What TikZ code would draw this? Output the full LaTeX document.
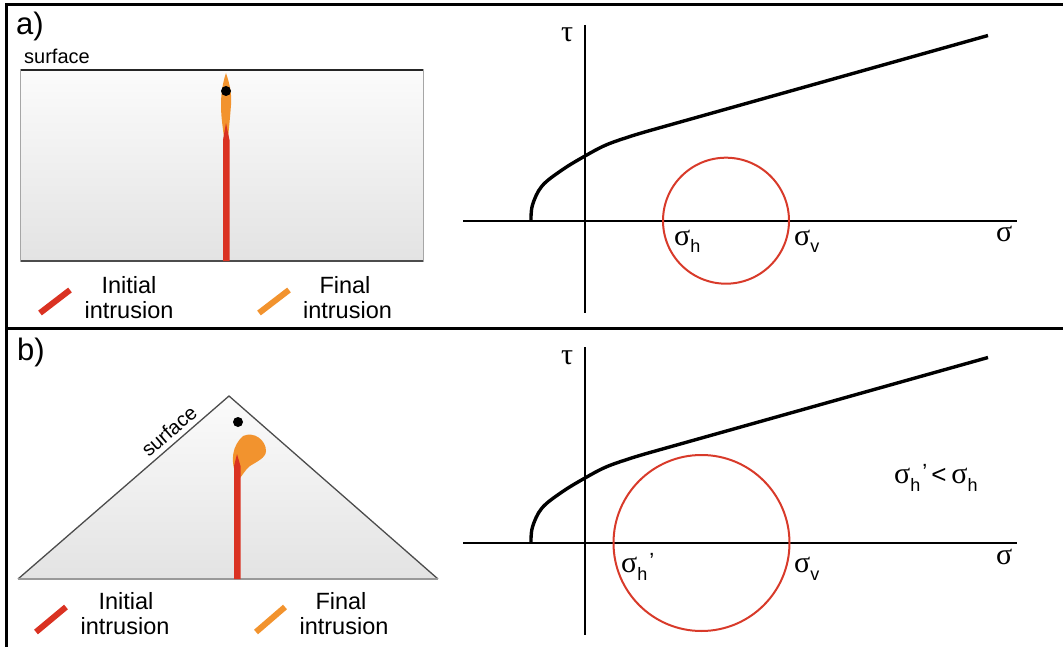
\documentclass[tikz,border=0pt]{standalone}
\usepackage{fontspec}
\setmainfont{Liberation Sans}
\newfontfamily\greekfont{Liberation Serif}
\usetikzlibrary{positioning}

\definecolor{dikered}{HTML}{DA3222}
\definecolor{dikeorange}{HTML}{F2932E}
\definecolor{mohrred}{HTML}{D83A2A}

\tikzset{
  panel/.style={line width=3pt, line cap=rect},
  axis/.style={line width=1.8pt},
  envelope/.style={line width=3.4pt, line join=round},
  mohr/.style={mohrred, line width=2pt},
  legendbar/.style={line width=6pt},
  rock/.style={top color=gray!3, bottom color=gray!22},
  lbl/.style={inner sep=0pt, font=\fontsize{23.5}{25}\selectfont, anchor=base},
  greek/.style={inner sep=0pt, anchor=base west, font=\fontsize{30}{30}\greekfont},
}

\newcommand\subh{\raisebox{-8pt}{\fontsize{18}{18}\rmfamily h}}
\newcommand\subv{\raisebox{-8pt}{\fontsize{18}{18}\rmfamily v}}
\newcommand\primemark{\kern2pt\raisebox{4pt}{\fontsize{22}{22}\rmfamily ’}}

\begin{document}
\begin{tikzpicture}[x=1pt, y=-1pt]

\useasboundingbox (0,0) rectangle (1063,647);

%% frame
\draw[panel] (1063,5) -- (6,5) -- (6,647);
\draw[panel] (6,328.5) -- (1063,328.5);

\node[inner sep=0pt, anchor=base west, font=\fontsize{31}{31}\selectfont] (labA) at (16,35) {a)};
\node[inner sep=0pt, anchor=base west, font=\fontsize{31}{31}\selectfont] (labB) at (17,360) {b)};

%% ---- a) flat surface
\shade[rock] (20.5,70) rectangle (423,261);
\draw[gray!70, line width=1pt] (20.5,70) rectangle (423,261);
\draw[black!85, line width=1.3pt] (20.5,70) -- (423,70);
\draw[black!70, line width=1.3pt] (20.5,261) -- (423,261);
\node[inner sep=0pt, anchor=base west, font=\fontsize{20}{20}\selectfont] (surfA) at (24,64) {surface};

\fill[dikeorange] (226,73) .. controls (229,82) and (232,92) .. (231,105)
  .. controls (230,118) and (229,128) .. (228,138) -- (224,138)
  .. controls (223,128) and (221,118) .. (221,105)
  .. controls (221,92) and (223,82) .. (226,73);
\fill[dikered] (223,261) -- (223,140) -- (226,123) -- (229.5,140) -- (229.5,261) -- cycle;
\fill (226,91) circle[radius=5];

\draw[legendbar, dikered] (40,313) -- (70,290);
\node[lbl] (initA) at (129,293) {Initial};
\node[lbl] (intrA) at (129,318) {intrusion};
\draw[legendbar, dikeorange] (259,313) -- (289,290);
\node[lbl] (finA) at (345,293) {Final};
\node[lbl] (intrA2) at (347.5,318) {intrusion};

%% ---- b) edifice
\shade[rock] (229,396) -- (438,579) -- (18,579) -- cycle;
\draw[black!70, line width=1.3pt, line join=miter] (18,579) -- (229,396) -- (438,579);
\draw[gray!80, line width=1.3pt] (18,579) -- (438,579);
\node[inner sep=0pt, rotate=41, font=\fontsize{20}{20}\selectfont] (surfB) at (169,431) {surface};

\fill[dikeorange] (235,472) .. controls (231,460) and (232,446) .. (243,436)
  .. controls (254,431) and (266,440) .. (266,451)
  .. controls (266,458) and (256,462) .. (250,466)
  .. controls (245,470) and (242,476) .. (240,478) -- cycle;
\fill[dikered] (234,579) -- (234,466) -- (237,454) -- (240.5,466) -- (240.5,579) -- cycle;
\fill (238,422) circle[radius=5];

\draw[legendbar, dikered] (36,632) -- (66,607);
\node[lbl] (initB) at (126,609) {Initial};
\node[lbl] (intrB) at (125,634) {intrusion};
\draw[legendbar, dikeorange] (256,632) -- (285,607);
\node[lbl] (finB) at (341,609) {Final};
\node[lbl] (intrB2) at (344,634) {intrusion};

%% ---- Mohr diagrams, a) on top and b) shifted down
\foreach \dy/\p in {0/A, 322/B}{
  \begin{scope}[shift={(0,\dy)}]
    \draw[axis] (585,25) -- (585,313);
    \draw[axis] (463,220.7) -- (1017,220.7);
    \draw[envelope] plot[smooth, tension=0.6] coordinates
      {(531,220.7) (532.5,205) (542,186) (562,170) (585,156) (606,145) (630,136.5) (650,130.5)}
      -- (988,35.5);
    \node[greek] (tau\p) at (561,42) {τ};
    \node[greek] (sig\p) at (996,242) {σ};
  \end{scope}
}

\draw[mohr] (726,220.7) circle[radius=63];
\node[greek] (shA) at (674,245) {σ\subh};
\node[greek] (svA) at (794,245) {σ\subv};

\draw[mohr] (701.5,543) circle[radius=88];
\node[greek] (shB) at (621,572) {σ\subh\primemark};
\node[greek] (svB) at (794,572) {σ\subv};
\node[greek] (cmpB) at (894,483) {σ\subh\primemark\kern4pt{\fontsize{26}{26}\rmfamily <}\kern5ptσ\subh};

\end{tikzpicture}
\end{document}
